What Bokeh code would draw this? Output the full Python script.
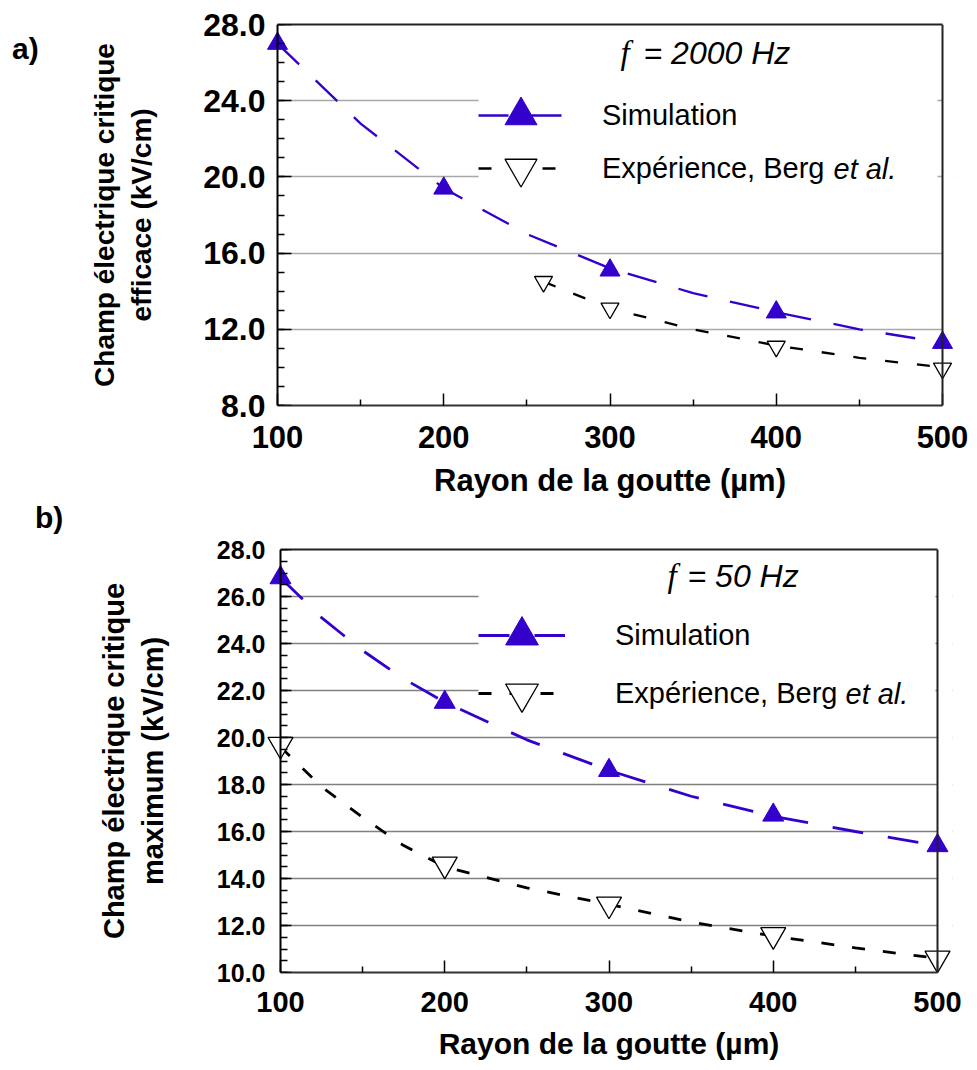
from bokeh.plotting import figure
from bokeh.models import (Range1d, FixedTicker, PrintfTickFormatter, Legend, LegendItem,
                          Label, LinearAxis, BoxAnnotation, Div)
from bokeh.layouts import column, row
from bokeh.embed import file_html
from bokeh.resources import INLINE

# ---------------- data ----------------
radius = [100, 200, 300, 400, 500]
x_ticks = [100, 200, 300, 400, 500]
x_minor_ticks = [150, 250, 350, 450]

# a) f = 2000 Hz
sim_2000 = [27.0, 19.4, 15.1, 12.9, 11.3]
exp_2000_radius = [260, 300, 400, 500]
exp_2000 = [14.5, 13.1, 11.1, 9.95]
sim_2000_fit_radius = [100, 150, 200, 250, 300, 350, 400, 450, 500]
sim_2000_fit = [27.0, 22.8, 19.4, 17.0, 15.2, 13.9, 12.9, 12.0, 11.3]
exp_2000_fit_radius = [260, 300, 350, 400, 450, 500]
exp_2000_fit = [14.5, 13.1, 12.0, 11.15, 10.5, 10.0]
y_ticks_a = [8, 12, 16, 20, 24, 28]
y_minor_a = [8, 9, 10, 11, 12, 13, 14, 15, 16, 17, 18, 19, 20, 21, 22, 23, 24, 25, 26, 27, 28]
y_grid_a = [12, 16, 20, 24]

# b) f = 50 Hz
sim_50 = [26.8, 21.5, 18.6, 16.7, 15.4]
exp_50 = [19.7, 14.6, 12.9, 11.6, 10.6]
fit_50_radius = [100, 125, 150, 175, 200, 250, 300, 350, 400, 450, 500]
sim_50_fit = [26.8, 25.1, 23.7, 22.5, 21.5, 19.9, 18.6, 17.5, 16.65, 16.0, 15.4]
exp_50_fit = [19.6, 17.9, 16.6, 15.4, 14.5, 13.6, 12.9, 12.15, 11.55, 11.05, 10.6]
y_ticks_b = [10, 12, 14, 16, 18, 20, 22, 24, 26, 28]
y_minor_b = [10, 10.5, 11, 11.5, 12, 12.5, 13, 13.5, 14, 14.5, 15, 15.5, 16, 16.5, 17, 17.5,
             18, 18.5, 19, 19.5, 20, 20.5, 21, 21.5, 22, 22.5, 23, 23.5, 24, 24.5, 25, 25.5,
             26, 26.5, 27, 27.5, 28]
y_grid_b = [12, 14, 16, 18, 20, 22, 24, 26]

x_title = "Rayon de la goutte (µm)"
y_title_a = "Champ électrique critique\nefficace (kV/cm)"
y_title_b = "Champ électrique critique\nmaximum (kV/cm)"
label_sim = "Simulation"
label_exp = "Expérience, Berg"
label_etal = "et al."

BLUE = "#3300cc"
FONT = "Liberation Sans"
SIDE_W = 70


def screen_label(p, xy, text, font, style, size):
    p.add_layout(Label(x=xy[0], y=xy[1], x_units="screen", y_units="screen", text=text,
                       text_font=font, text_font_style=style, text_font_size=size,
                       text_baseline="middle", text_color="black"))


def panel_div(text, height, pad_left, shift_top, font_px):
    html = ('<div style="font-family:\'Liberation Sans\',Arial,sans-serif;font-weight:bold;'
            'font-size:%dpx;line-height:%dpx;color:black;padding-left:%dpx;margin-top:%dpx;">'
            '%s</div>' % (font_px, font_px + 4, pad_left, shift_top, text))
    return Div(text=html, width=SIDE_W, height=height, margin=(0, 0, 0, 0))


def build(c):
    pad = c["pad_px"] / c["ppu"]
    p = figure(frame_width=c["fw"], frame_height=c["fh"],
               min_border_left=c["mbl"] - SIDE_W, min_border_right=c["mbr"],
               min_border_top=c["mbt"], min_border_bottom=c["mbb"],
               x_range=Range1d(100 - pad, 500 + pad), y_range=Range1d(c["ylo"], c["yhi"]),
               output_backend="svg", toolbar_location=None)
    p.background_fill_color = "white"
    p.border_fill_color = "white"
    p.outline_line_color = None
    p.xgrid.visible = False
    p.ygrid.ticker = FixedTicker(ticks=c["ygrid"])
    p.ygrid.grid_line_color = c["grid_color"]
    p.ygrid.grid_line_width = c["grid_width"]

    # white masks for the small margins outside the 100..500 axis box
    p.add_layout(BoxAnnotation(left=100 - pad, right=100, fill_color="white", fill_alpha=1.0,
                               line_color=None, level="underlay"))
    p.add_layout(BoxAnnotation(left=500, right=500 + pad, fill_color="white", fill_alpha=1.0,
                               line_color=None, level="underlay"))
    # white legend background (hides the grid lines behind the legend)
    lb = c["leg_bg"]
    p.add_layout(BoxAnnotation(left=lb[0], right=lb[1], bottom=lb[2], top=lb[3],
                               left_units="screen", right_units="screen",
                               bottom_units="screen", top_units="screen",
                               fill_color="white", fill_alpha=1.0, line_color=None,
                               level="underlay"))

    xa = p.xaxis[0]
    xa.bounds = (100, 500)
    xa.ticker = FixedTicker(ticks=x_ticks, minor_ticks=x_minor_ticks)
    xa.major_tick_in = 12
    xa.major_tick_out = 0
    xa.minor_tick_in = 6
    xa.minor_tick_out = 0
    xa.major_tick_line_width = 1.5
    xa.minor_tick_line_width = 1.5
    xa.axis_line_width = 2
    xa.axis_line_color = "#333333"
    xa.major_label_standoff = c["xl_standoff"]
    xa.major_label_text_font = FONT
    xa.major_label_text_font_style = "bold"
    xa.major_label_text_font_size = c["xtick_fs"]
    xa.major_label_text_color = "black"
    xa.axis_label = x_title
    xa.axis_label_text_font = FONT
    xa.axis_label_text_font_style = "bold"
    xa.axis_label_text_font_size = c["xtitle_fs"]
    xa.axis_label_text_color = "black"
    xa.axis_label_standoff = c["xt_standoff"]

    # y axis: labels + title at the frame edge (line and ticks drawn by a second axis)
    ya = p.yaxis[0]
    ya.ticker = FixedTicker(ticks=c["yticks"])
    ya.formatter = PrintfTickFormatter(format="%.1f")
    ya.axis_line_color = None
    ya.major_tick_line_color = None
    ya.minor_tick_line_color = None
    ya.major_tick_in = 0
    ya.major_tick_out = 0
    ya.minor_tick_in = 0
    ya.minor_tick_out = 0
    ya.major_label_standoff = c["yl_standoff"]
    ya.major_label_text_font = FONT
    ya.major_label_text_font_style = "bold"
    ya.major_label_text_font_size = c["ytick_fs"]
    ya.major_label_text_color = "black"
    ya.axis_label = c["ytitle"]
    ya.axis_label_text_font = FONT
    ya.axis_label_text_font_style = "bold"
    ya.axis_label_text_font_size = c["ytitle_fs"]
    ya.axis_label_text_color = "black"
    ya.axis_label_standoff = c["yt_standoff"]

    yline = LinearAxis(fixed_location=100,
                       ticker=FixedTicker(ticks=c["yticks"], minor_ticks=c["yminor"]),
                       axis_line_width=2, axis_line_color="black",
                       major_tick_in=c["ytick_in"], major_tick_out=0,
                       minor_tick_in=7, minor_tick_out=0,
                       major_tick_line_width=1.5, minor_tick_line_width=1.5,
                       major_label_text_alpha=0, major_label_text_font_size="1px",
                       major_label_standoff=0)
    p.add_layout(yline, "left")

    for side, kw in (("above", dict(bounds=(100, 500))), ("right", dict(fixed_location=500))):
        ax = LinearAxis(ticker=FixedTicker(ticks=[]), axis_line_width=2, axis_line_color="#222222",
                        major_tick_in=0, major_tick_out=0, minor_tick_in=0, minor_tick_out=0,
                        major_label_standoff=0, **kw)
        p.add_layout(ax, side)

    r1 = p.line(c["sim_fit_x"], c["sim_fit_y"], line_color=BLUE, line_width=c["lw"],
                line_dash=c["sim_dash"])
    r2 = p.scatter(radius, c["sim_y"], marker="triangle", size=c["sim_size"],
                   fill_color=BLUE, line_color=BLUE)
    r3 = p.line(c["exp_fit_x"], c["exp_fit_y"], line_color="black", line_width=c["lw"],
                line_dash=c["exp_dash"])
    r4 = p.scatter(c["exp_x"], c["exp_y"], marker="inverted_triangle", size=c["exp_size"],
                   fill_color="white", line_color="black", line_width=1.3)

    for item_label, rends, loc in ((label_sim, [r1, r2], c["leg_sim"]),
                                   (label_exp, [r3, r4], c["leg_exp"])):
        leg = Legend(items=[LegendItem(label=item_label, renderers=rends)],
                     location=loc, glyph_width=c["gw"], glyph_height=c["gh"],
                     label_standoff=c["lso"], padding=0, margin=0,
                     label_text_font=FONT, label_text_font_size="29px",
                     label_text_color="black", background_fill_alpha=0.0,
                     border_line_color=None)
        p.add_layout(leg)

    screen_label(p, c["etal"], label_etal, FONT, "italic", "29px")
    screen_label(p, c["f"], "f", "Liberation Serif", "italic", "33px")
    screen_label(p, c["freq"], c["freq_text"], FONT, "italic", "32px")
    return p


cfg_a = dict(
    pad_px=12, ppu=665 / 400, fw=689, fh=381, mbl=265, mbr=23, mbt=24, mbb=101,
    ylo=8, yhi=28, ygrid=y_grid_a, grid_color="#a8a8a8", grid_width=1.3,
    xl_standoff=20, xtick_fs="31px", xtitle_fs="31px", xt_standoff=12,
    yticks=y_ticks_a, yminor=y_minor_a, ytick_in=14, yl_standoff=0, ytick_fs="32px",
    ytitle=y_title_a, ytitle_fs="28px", yt_standoff=43,
    sim_fit_x=sim_2000_fit_radius, sim_fit_y=sim_2000_fit, sim_y=sim_2000, sim_size=20,
    exp_fit_x=exp_2000_fit_radius, exp_fit_y=exp_2000_fit, exp_x=exp_2000_radius, exp_y=exp_2000,
    exp_size=18, lw=2.3, sim_dash="30 23", exp_dash="13 19",
    leg_bg=(213, 672, 193, 330),
    leg_sim=(213, 250), leg_exp=(213, 197), gw=85, gh=80, lso=39,
    etal=(568, 237), f=(355, 353), freq=(378, 353), freq_text="= 2000 Hz",
)
cfg_b = dict(
    pad_px=15, ppu=657 / 400, fw=687, fh=423, mbl=265, mbr=25, mbt=43, mbb=98,
    ylo=10, yhi=28, ygrid=y_grid_b, grid_color="#808080", grid_width=1.5,
    xl_standoff=19, xtick_fs="29px", xtitle_fs="30px", xt_standoff=12,
    yticks=y_ticks_b, yminor=y_minor_b, ytick_in=11, yl_standoff=0, ytick_fs="25px",
    ytitle=y_title_b, ytitle_fs="29px", yt_standoff=45,
    sim_fit_x=fit_50_radius, sim_fit_y=sim_50_fit, sim_y=sim_50, sim_size=21,
    exp_fit_x=fit_50_radius, exp_fit_y=exp_50_fit, exp_x=radius, exp_y=exp_50,
    exp_size=25, lw=2.8, sim_dash="31 25", exp_dash="13 18",
    leg_bg=(213, 670, 238, 378),
    leg_sim=(213, 296), leg_exp=(213, 238), gw=87, gh=82, lso=50,
    etal=(580, 279), f=(402, 397), freq=(422, 397), freq_text="= 50 Hz",
)

pa = build(cfg_a)
pb = build(cfg_b)
height_a = cfg_a["mbt"] + cfg_a["fh"] + cfg_a["mbb"]
height_b = cfg_b["mbt"] + cfg_b["fh"] + cfg_b["mbb"]

layout = column(row(panel_div("a)", height_a, 12, 32, 30), pa, spacing=0),
                row(panel_div("b)", height_b, 35, -5, 30), pb, spacing=0),
                spacing=0)
open("out.html", "w").write(file_html(layout, INLINE))
